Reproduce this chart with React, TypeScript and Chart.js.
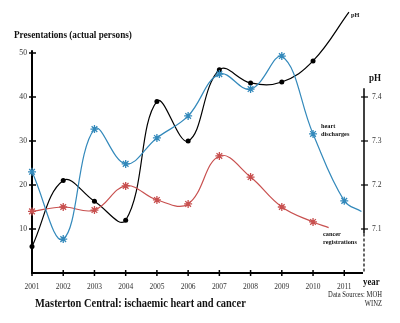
import React, { useEffect, useRef } from "react";
import { Chart, registerables } from "chart.js";

Chart.register(...registerables);

const years = [2001, 2002, 2003, 2004, 2005, 2006, 2007, 2008, 2009, 2010, 2011];
const leftTicks = [10, 20, 30, 40, 50];
const pHTicks = [7.1, 7.2, 7.3, 7.4];

// heart discharges (actual persons); last x is the line's tail without marker
const heartX = [2001, 2002, 2003, 2004, 2005, 2006, 2007, 2008, 2009, 2010, 2011, 2011.55];
const heartValues = [23, 7.7, 32.7, 24.8, 30.7, 35.7, 45.2, 41.8, 49.3, 31.6, 16.4, 14];

// cancer registrations (actual persons)
const cancerX = [2001, 2002, 2003, 2004, 2005, 2006, 2007, 2008, 2009, 2010, 2010.5];
const cancerValues = [14, 15, 14.3, 19.8, 16.6, 15.7, 26.6, 21.8, 15, 11.6, 10.3];

// pH (right axis)
const pHX = [2001, 2002, 2003, 2004, 2005, 2006, 2007, 2008, 2009, 2010, 2011.15];
const pHValues = [7.06, 7.21, 7.163, 7.12, 7.39, 7.3, 7.462, 7.432, 7.434, 7.482, 7.593];

const FONT = '"Liberation Serif", "DejaVu Serif", "Times New Roman", serif';
const BLUE = "#3389bb";
const RED = "#c8504f";

const markerRadius = (xs: number[], r: number) =>
  xs.map((x) => (Number.isInteger(x) ? r : 0));

function drawText(
  ctx: CanvasRenderingContext2D,
  text: string,
  x: number,
  y: number,
  font: string,
  align: CanvasTextAlign,
  sx: number,
  color = "#111",
  baseline: CanvasTextBaseline = "alphabetic"
) {
  ctx.save();
  ctx.font = font;
  ctx.fillStyle = color;
  ctx.textAlign = align;
  ctx.textBaseline = baseline;
  ctx.translate(x, y);
  ctx.scale(sx, 1);
  ctx.fillText(text, 0, 0);
  ctx.restore();
}

const axesPlugin = {
  id: "customAxes",
  beforeDatasetsDraw(chart: any) {
    const { ctx, scales } = chart;
    const x = scales.x;
    const y = scales.y;
    const y1 = scales.y1;
    ctx.save();
    ctx.strokeStyle = "#000";
    // left axis
    ctx.lineWidth = 2;
    ctx.beginPath();
    ctx.moveTo(x.left, y.getPixelForValue(50.6));
    ctx.lineTo(x.left, y.getPixelForValue(0));
    ctx.stroke();
    // x axis
    ctx.beginPath();
    ctx.moveTo(x.left - 1, y.getPixelForValue(0));
    ctx.lineTo(x.right, y.getPixelForValue(0));
    ctx.stroke();
    ctx.lineWidth = 1.5;
    for (const t of leftTicks) {
      const py = y.getPixelForValue(t);
      ctx.beginPath();
      ctx.moveTo(x.left - 3, py);
      ctx.lineTo(x.left + 4, py);
      ctx.stroke();
    }
    for (const yr of years) {
      const px = x.getPixelForValue(yr);
      const py = y.getPixelForValue(0);
      ctx.beginPath();
      ctx.moveTo(px, py - 3);
      ctx.lineTo(px, py + 3);
      ctx.stroke();
    }
    // right pH axis
    const rx = x.right + 1;
    ctx.lineWidth = 1.5;
    ctx.beginPath();
    ctx.moveTo(rx, y1.getPixelForValue(7.42));
    ctx.lineTo(rx, y1.getPixelForValue(7.09));
    ctx.stroke();
    ctx.setLineDash([3, 2]);
    ctx.lineWidth = 1.2;
    ctx.beginPath();
    ctx.moveTo(rx, y1.getPixelForValue(7.09));
    ctx.lineTo(rx, y1.getPixelForValue(7.0));
    ctx.stroke();
    ctx.setLineDash([]);
    ctx.lineWidth = 1.2;
    for (const t of pHTicks) {
      const py = y1.getPixelForValue(t);
      ctx.beginPath();
      ctx.moveTo(rx - 3, py);
      ctx.lineTo(rx + 4, py);
      ctx.stroke();
    }
    ctx.restore();

    // tick labels
    const tf = `9px ${FONT}`;
    const tc = "#333";
    for (const t of leftTicks) {
      drawText(ctx, String(t), x.left - 5, y.getPixelForValue(t), tf, "right", 0.85, tc, "middle");
    }
    for (const yr of years) {
      drawText(ctx, String(yr), x.getPixelForValue(yr), y.getPixelForValue(0) + 13.5, tf, "center", 0.83, tc, "middle");
    }
    for (const t of pHTicks) {
      drawText(ctx, t.toFixed(1), rx + 8, y1.getPixelForValue(t), tf, "left", 0.85, tc, "middle");
    }
  },
  afterDraw(chart: any) {
    const { ctx } = chart;
    drawText(ctx, "Presentations (actual persons)", 14, 37.5, `bold 10px ${FONT}`, "left", 0.92);
    drawText(ctx, "Masterton Central: ischaemic heart and cancer", 35, 307, `bold 12px ${FONT}`, "left", 0.87);
    drawText(ctx, "year", 363, 285, `bold 10px ${FONT}`, "left", 0.88);
    drawText(ctx, "pH", 369, 81, `bold 10px ${FONT}`, "left", 0.9);
    drawText(ctx, "pH", 351, 17, `bold 7px ${FONT}`, "left", 0.9);
    drawText(ctx, "heart", 321, 127.5, `bold 7px ${FONT}`, "left", 0.9);
    drawText(ctx, "discharges", 321, 135.5, `bold 7px ${FONT}`, "left", 0.9);
    drawText(ctx, "cancer", 323, 236, `bold 7px ${FONT}`, "left", 0.9);
    drawText(ctx, "registrations", 323, 243.5, `bold 7px ${FONT}`, "left", 0.9);
    drawText(ctx, "Data Sources: MOH", 382, 297, `7.5px ${FONT}`, "right", 0.88, "#222");
    drawText(ctx, "WINZ", 382, 305.5, `7.5px ${FONT}`, "right", 0.88, "#222");
  },
};

export default function App() {
  const ref = useRef<HTMLCanvasElement | null>(null);
  useEffect(() => {
    if (!ref.current) return;
    const hiddenTicks = { display: false };
    const chart = new Chart(ref.current, {
      type: "line",
      data: {
        datasets: [
          {
            label: "heart discharges",
            data: heartX.map((x, i) => ({ x, y: heartValues[i] })),
            borderColor: BLUE,
            backgroundColor: BLUE,
            borderWidth: 1.2,
            tension: 0.4,
            pointStyle: "star",
            pointRadius: markerRadius(heartX, 4),
            pointBorderColor: BLUE,
            pointBorderWidth: 1.3,
            yAxisID: "y",
            clip: false,
          },
          {
            label: "cancer registrations",
            data: cancerX.map((x, i) => ({ x, y: cancerValues[i] })),
            borderColor: RED,
            backgroundColor: RED,
            borderWidth: 1.2,
            tension: 0.4,
            pointStyle: "star",
            pointRadius: markerRadius(cancerX, 4),
            pointBorderColor: RED,
            pointBorderWidth: 1.3,
            yAxisID: "y",
            clip: false,
          },
          {
            label: "pH",
            data: pHX.map((x, i) => ({ x, y: pHValues[i] })),
            borderColor: "#000",
            backgroundColor: "#000",
            borderWidth: 1.2,
            tension: 0.4,
            pointStyle: "circle",
            pointRadius: markerRadius(pHX, 2.5),
            pointBorderWidth: 0,
            yAxisID: "y1",
            clip: false,
          },
        ],
      },
      options: {
        responsive: false,
        animation: false,
        events: [],
        layout: { padding: { top: 53, left: 0, right: 0, bottom: 0 } },
        plugins: { legend: { display: false }, tooltip: { enabled: false } },
        scales: {
          x: {
            type: "linear",
            min: 2001,
            max: 2011.6,
            grid: { display: false, drawTicks: false },
            border: { display: false },
            ticks: hiddenTicks,
            afterFit: (s: any) => {
              s.height = 50;
            },
          },
          y: {
            position: "left",
            min: 0,
            max: 50,
            grid: { display: false, drawTicks: false },
            border: { display: false },
            ticks: hiddenTicks,
            afterFit: (s: any) => {
              s.width = 32;
            },
          },
          y1: {
            position: "right",
            min: 7.0,
            max: 7.5,
            grid: { display: false, drawTicks: false },
            border: { display: false },
            ticks: hiddenTicks,
            afterFit: (s: any) => {
              s.width = 37;
            },
          },
        },
      },
      plugins: [axesPlugin],
    } as any);
    return () => chart.destroy();
  }, []);
  return (
    <div style={{ position: "absolute", left: 0, top: 0, width: 400, height: 323, background: "#fff" }}>
      <canvas ref={ref} width={400} height={323} />
    </div>
  );
}
